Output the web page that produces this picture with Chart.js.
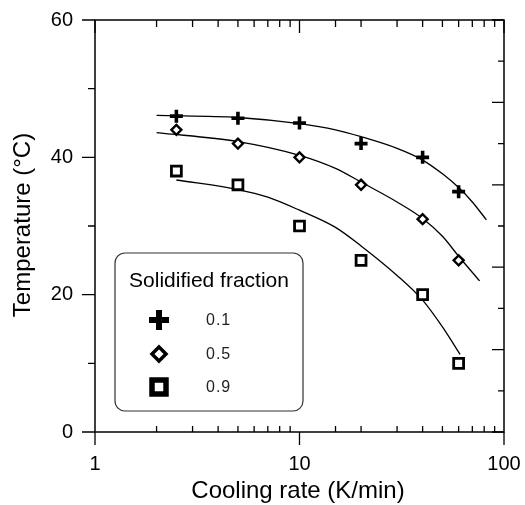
<!DOCTYPE html>
<html>
<head>
<meta charset="utf-8">
<script src="https://cdn.jsdelivr.net/npm/chart.js@4.4.1/dist/chart.umd.min.js"></script>
<style>
  body { margin: 0; background: #fff; }
  #wrap { width: 525px; height: 505px; position: relative; }
</style>
</head>
<body>
<div id="wrap"><canvas id="coolChart"></canvas></div>
<script>
// measured points (cooling rate K/min -> temperature °C)
const rates = [2.5, 5, 10, 20, 40, 60];
const temp01 = [46, 45.7, 45, 42, 40, 35];
const temp05 = [44, 42, 40, 36, 31, 25];
const temp09 = [38, 36, 30, 25, 20, 10];

// fitted curves
const fit01X = [2, 5, 10, 15, 20, 30, 40, 50, 60, 70, 82];
const fit01Y = [46.1, 45.8, 44.9, 44.0, 43.0, 41.3, 39.6, 37.6, 35.6, 33.5, 30.9];
const fit05X = [2, 5, 10, 15, 20, 30, 40, 50, 60, 76];
const fit05Y = [43.6, 42.3, 40.3, 38.4, 36.4, 33.5, 31.1, 28.5, 25.6, 22.0];
const fit09X = [2.5, 5, 7, 10, 15, 20, 30, 40, 50, 61];
const fit09Y = [36.7, 35.3, 34.2, 32.3, 29.8, 27.1, 22.8, 19.2, 15.3, 11.3];

const fractions = ["0.1", "0.5", "0.9"];
const xMajor = [1, 10, 100];
const yLabels = [0, 20, 40, 60];

const FONT = 'Arial, "Liberation Sans", Helvetica, sans-serif';
Chart.defaults.font.family = FONT;
Chart.defaults.color = "#000";

function toXY(xs, ys) {
  return xs.map((x, i) => ({ x: x, y: ys[i] }));
}

function fitLine(xs, ys) {
  return {
    type: "line",
    data: toXY(xs, ys),
    borderColor: "#000",
    borderWidth: 1.3,
    pointRadius: 0,
    fill: false,
    cubicInterpolationMode: "monotone",
    order: 2,
  };
}

function markers(ys, style, radius, width) {
  return {
    type: "scatter",
    data: toXY(rates, ys),
    pointStyle: style,
    pointRadius: radius,
    pointBorderWidth: width,
    pointBorderColor: "#000",
    pointBackgroundColor: "#fff",
    showLine: false,
    order: 1,
  };
}

function noPadding(scale) {
  scale.paddingLeft = 0;
  scale.paddingRight = 0;
  scale.paddingTop = 0;
  scale.paddingBottom = 0;
}

// frame, tick marks, titles and the boxed legend
const decorations = {
  id: "decorations",
  afterDraw(chart) {
    const ctx = chart.ctx;
    const a = chart.chartArea;
    const xs = chart.scales.x;
    const ys = chart.scales.y;
    ctx.save();
    ctx.strokeStyle = "#000";
    ctx.lineWidth = 1.5;
    ctx.strokeRect(a.left, a.top, a.right - a.left, a.bottom - a.top);

    ctx.lineWidth = 1.3;
    ctx.beginPath();
    // left ticks, outward
    for (let v = 0; v <= 60; v += 10) {
      const py = ys.getPixelForValue(v);
      const len = v % 20 === 0 ? 13 : 7;
      ctx.moveTo(a.left - len, py);
      ctx.lineTo(a.left, py);
    }
    // right ticks, inward
    for (let v = 0; v <= 60; v += 6) {
      const py = ys.getPixelForValue(v);
      const len = v % 12 === 0 ? 12 : 6;
      ctx.moveTo(a.right - len, py);
      ctx.lineTo(a.right, py);
    }
    // bottom and top ticks
    xs.ticks.forEach((t) => {
      const px = xs.getPixelForValue(t.value);
      const major = xMajor.includes(t.value);
      if (major) {
        ctx.moveTo(px, a.bottom);
        ctx.lineTo(px, a.bottom + 13);
        ctx.moveTo(px, a.top);
        ctx.lineTo(px, a.top + 13);
      } else {
        ctx.moveTo(px, a.bottom);
        ctx.lineTo(px, a.bottom - 6);
        ctx.moveTo(px, a.top);
        ctx.lineTo(px, a.top + 7);
      }
    });
    ctx.stroke();

    // axis titles
    ctx.fillStyle = "#000";
    ctx.font = "24px " + FONT;
    ctx.textAlign = "center";
    ctx.textBaseline = "middle";
    ctx.fillText("Cooling rate (K/min)", 298, 491);
    ctx.save();
    ctx.translate(23, 225);
    ctx.rotate(-Math.PI / 2);
    ctx.fillText("Temperature (°C)", 0, 0);
    ctx.restore();

    // legend box
    const bx = 115, by = 253, bw = 188, bh = 158, r = 10;
    ctx.beginPath();
    ctx.roundRect(bx, by, bw, bh, r);
    ctx.fillStyle = "#fff";
    ctx.fill();
    ctx.strokeStyle = "#333";
    ctx.lineWidth = 1.2;
    ctx.stroke();

    ctx.fillStyle = "#000";
    ctx.font = "21px " + FONT;
    ctx.fillText("Solidified fraction", 209, 281);

    const rows = [320, 354, 387];
    const mx = 159;
    ctx.strokeStyle = "#000";
    // plus
    ctx.lineWidth = 6;
    ctx.beginPath();
    ctx.moveTo(mx - 10, rows[0]);
    ctx.lineTo(mx + 10, rows[0]);
    ctx.moveTo(mx, rows[0] - 10);
    ctx.lineTo(mx, rows[0] + 10);
    ctx.stroke();
    // diamond
    ctx.lineWidth = 3.5;
    ctx.beginPath();
    ctx.moveTo(mx - 7, rows[1]);
    ctx.lineTo(mx, rows[1] - 7);
    ctx.lineTo(mx + 7, rows[1]);
    ctx.lineTo(mx, rows[1] + 7);
    ctx.closePath();
    ctx.stroke();
    // square
    ctx.lineWidth = 5.5;
    ctx.strokeRect(mx - 7, rows[2] - 7, 14, 14);

    ctx.fillStyle = "#222";
    ctx.font = "16px " + FONT;
    ctx.letterSpacing = "1px";
    ctx.textAlign = "left";
    fractions.forEach((f, i) => {
      ctx.fillText(f, 206, rows[i] + 1);
    });
    ctx.restore();
  },
};

const ctx = document.getElementById("coolChart").getContext("2d");
new Chart(ctx, {
  data: {
    datasets: [
      markers(temp01, "cross", 6.5, 3.6),
      markers(temp05, "rectRot", 5, 2.4),
      markers(temp09, "rect", 7, 2.8),
      fitLine(fit01X, fit01Y),
      fitLine(fit05X, fit05Y),
      fitLine(fit09X, fit09Y),
    ],
  },
  options: {
    responsive: true,
    maintainAspectRatio: false,
    animation: false,
    layout: { padding: { top: 20, right: 21, left: 0, bottom: 0 } },
    plugins: { legend: { display: false }, tooltip: { enabled: false } },
    scales: {
      x: {
        type: "logarithmic",
        min: 1,
        max: 100,
        afterFit: (scale) => { scale.height = 73; noPadding(scale); },
        grid: { display: false, drawTicks: false },
        border: { display: false },
        ticks: {
          autoSkip: false,
          maxRotation: 0,
          padding: 20,
          font: { size: 20 },
          callback: (v) => (xMajor.includes(v) ? String(v) : ""),
        },
      },
      y: {
        min: 0,
        max: 60,
        afterFit: (scale) => { scale.width = 95; noPadding(scale); },
        grid: { display: false, drawTicks: false },
        border: { display: false },
        ticks: {
          stepSize: 10,
          padding: 22,
          font: { size: 20 },
          callback: (v) => (yLabels.includes(v) ? String(v) : ""),
        },
      },
    },
  },
  plugins: [decorations],
});
</script>
</body>
</html>
